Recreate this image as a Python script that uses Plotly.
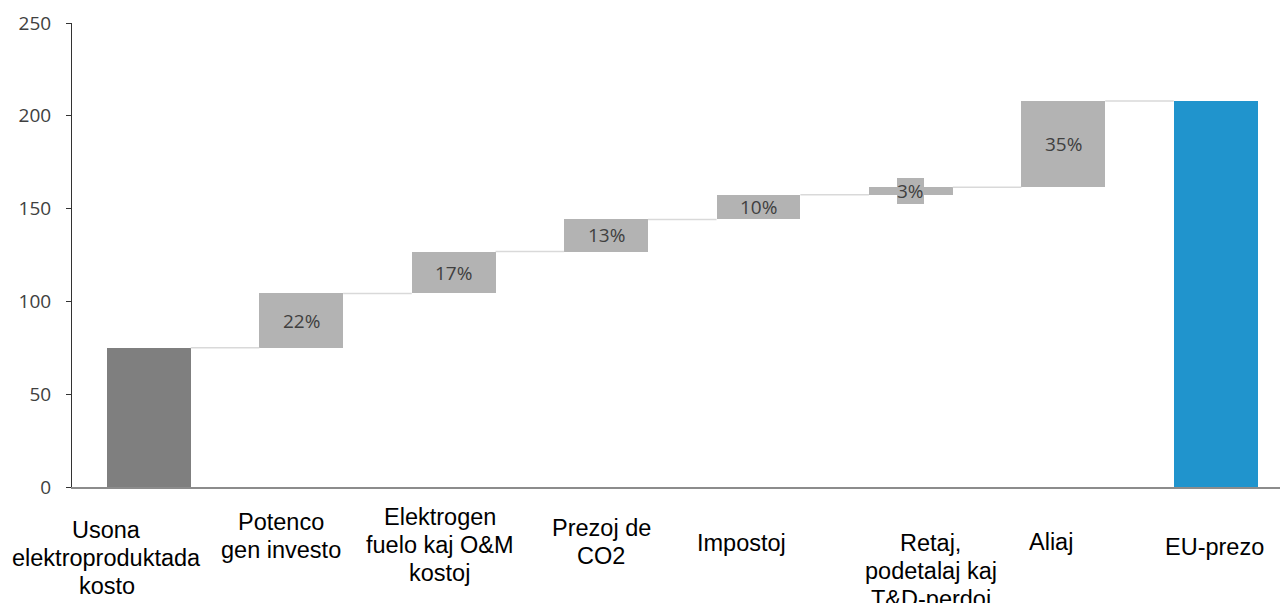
import plotly.graph_objects as go

# --- data -------------------------------------------------------------
categories = [
    "Usona<br>elektroproduktada<br>kosto",
    "Potenco<br>gen investo",
    "Elektrogen<br>fuelo kaj O&M<br>kostoj",
    "Prezoj de<br>CO2",
    "Impostoj",
    "Retaj,<br>podetalaj kaj<br>T&D-perdoj",
    "Aliaj",
    "EU-prezo",
]
start_value = 75          # US generation cost
end_value = 208           # EU price
step_shares = [22, 17, 13, 10, 3, 35]   # % of the gap, one per step
y_ticks = [0, 50, 100, 150, 200, 250]

# --- derived waterfall geometry ---------------------------------------
gap = end_value - start_value
steps = [s / 100 * gap for s in step_shares]
bases, heights = [0], [start_value]
level = start_value
for st in steps:
    bases.append(level)
    heights.append(st)
    level += st
bases.append(0)
heights.append(end_value)
levels = [b + h for b, h in zip(bases, heights)]

DARK = "#7f7f7f"
LIGHT = "#b3b3b3"
BLUE = "#2094cd"
colors = [DARK] + [LIGHT] * len(steps) + [BLUE]
BAR_W = 0.55
xs = list(range(len(categories)))

fig = go.Figure()

# connector lines between consecutive bars
for i in range(len(categories) - 1):
    lvl = levels[i]
    fig.add_trace(go.Scatter(
        x=[xs[i] + BAR_W / 2, xs[i + 1] - BAR_W / 2], y=[lvl, lvl],
        mode="lines", line=dict(color="#d9d9d9", width=1.5),
        hoverinfo="skip", showlegend=False,
    ))

fig.add_trace(go.Bar(
    x=xs, y=heights, base=bases, width=BAR_W,
    marker=dict(color=colors, line=dict(width=0)),
    showlegend=False,
))

annotations = []
# percentage labels centred on each step bar; a thin bar gets a label box
for k, share in enumerate(step_shares):
    i = k + 1
    thin = heights[i] < 10
    annotations.append(dict(
        x=xs[i], y=bases[i] + heights[i] / 2, xref="x", yref="y",
        text=f"{share}%", showarrow=False,
        font=dict(family="Open Sans", size=19, color="#404040"),
        bgcolor=LIGHT if thin else "rgba(0,0,0,0)",
        borderpad=0, borderwidth=0,
    ))

# category labels below the axis, one annotation per text line
label_shift = [-42, -20, -14, -5, -17, 20, -12, -1]
label_top = [520, 512, 507, 518, 533, 533, 532, 537]
LINE_STEP = 28
for i, cat in enumerate(categories):
    for j, line in enumerate(cat.split("<br>")):
        cap_top = label_top[i] + j * LINE_STEP
        annotations.append(dict(
            x=xs[i], y=0, xref="x", yref="paper",
            xanchor="center", yanchor="top",
            xshift=label_shift[i], yshift=-(cap_top - 5.5 - 487),
            text=line, showarrow=False,
            font=dict(family="Liberation Sans, Arial", size=23.5, color="#000000"),
        ))

fig.update_layout(
    width=1280, height=603,
    margin=dict(l=72, r=0, t=23, b=116, pad=0),
    paper_bgcolor="white", plot_bgcolor="white",
    bargap=0, annotations=annotations,
    xaxis=dict(
        range=[-0.504, 7.422], showgrid=False, zeroline=False,
        showticklabels=False, ticks="",
        showline=True, linecolor="#8c8c8c", linewidth=1.5,
    ),
    yaxis=dict(
        range=[0, 250], tickvals=y_ticks, showgrid=False, zeroline=False,
        showline=True, linecolor="#333333", linewidth=1,
        ticks="outside", ticklen=5, tickcolor="#333333",
        tickfont=dict(family="Open Sans", size=19, color="#404040"),
        ticklabelstandoff=11,
    ),
)

fig.write_html("out.html")
